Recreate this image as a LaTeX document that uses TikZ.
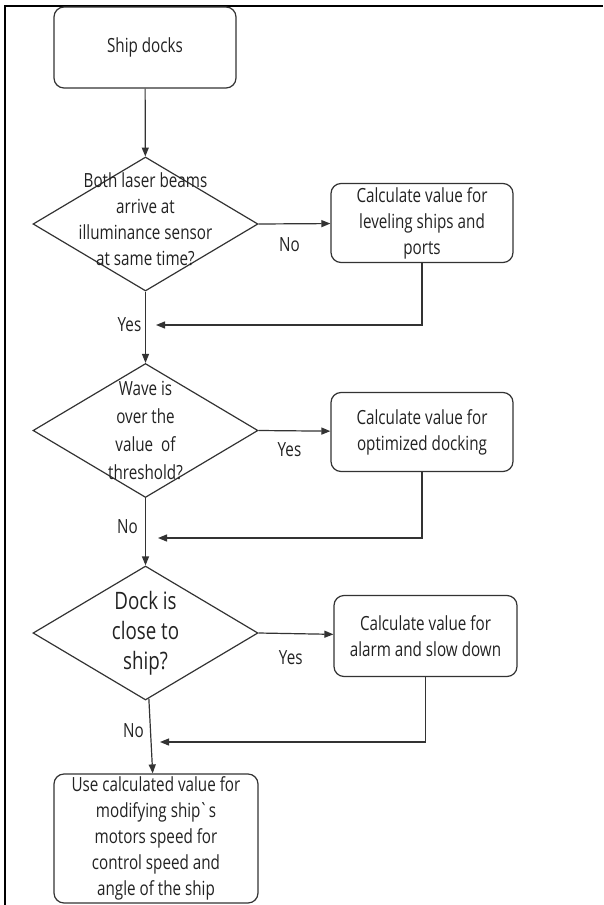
\documentclass[tikz,border=0pt]{standalone}
\usepackage{fontspec}
\setmainfont{Open Sans}[FakeStretch=0.78]
\usepackage{xcolor}
\usetikzlibrary{arrows.meta,shapes.geometric,positioning}
\definecolor{linegray}{HTML}{333333}
\definecolor{textgray}{HTML}{222222}
\tikzset{
  block/.style={draw=linegray, line width=1.2pt, rounded corners=10pt, align=center,
    inner sep=0pt, text=textgray, font=\fontsize{19.5}{26}\selectfont},
  decision/.style={draw=linegray, line width=1.2pt, diamond, inner sep=0pt,
    minimum width=225pt, minimum height=134pt},
  flow/.style={draw=linegray, line width=1.2pt, -{Triangle[length=9pt,width=7pt]}},
  tag/.style={text=textgray, inner sep=0pt, font=\fontsize{19.5}{26}\selectfont}
}

\begin{document}
\begin{tikzpicture}[x=1pt,y=-1pt]
    \useasboundingbox (0,0) rectangle (603,905);
    % Cornice (solo lati sinistro e superiore)
    \draw[line width=2pt] (5,905) -- (5,6) -- (603,6);
    % Blocchi della colonna principale
    \node[block, minimum width=182pt, minimum height=81pt] (dock) at (145,47.5) {Ship docks};
    \node[decision, label={[tag, align=center, yshift=4.5pt]center:{Both laser beams\\arrive at\\illuminance sensor\\at same time?}}] (laser) at (145.5,224) {};
    \node[decision, label={[tag, align=center, font=\fontsize{19.5}{28}\selectfont]center:{Wave is\\over the\\value\ \ of\\threshold?}}] (wave) at (145.5,430.5) {};
    \node[decision, label={[tag, align=center, font=\fontsize{24}{30}\selectfont]center:{Dock is\\close to\\ship?}}] (close) at (145.5,633) {};
    \node[block, minimum width=204pt, minimum height=129pt] (final) at (156,838.5)
      {Use calculated value for\\modifying ship\kern-1.5pt\textasciigrave\kern-1.5pt s\\motors speed for\\control speed and\\angle of the ship};
    % Blocchi di calcolo a destra
    \node[block, minimum width=182pt, minimum height=79pt] (level) at (422,223) {Calculate value for\\leveling ships and\\ports};
    \node[block, minimum width=182pt, minimum height=79pt] (optim) at (422,432) {Calculate value for\\optimized docking};
    \node[block, minimum width=183pt, minimum height=81pt] (alarm) at (425.5,636) {Calculate value for\\alarm and slow down};
    % Punti di rientro
    \coordinate (back1) at (156,325);
    \coordinate (back2) at (158,538);
    \coordinate (back3) at (160,742);
    % Frecce principali
    \draw[flow] (dock) -- (laser);
    \draw[flow] (laser) -- node[tag, pos=0.47, xshift=-16pt] {Yes} (wave);
    \draw[flow] (wave) -- node[tag, pos=0.43, xshift=-18pt] {No} (close);
    \draw[flow] (close) -- node[tag, pos=0.43, xshift=-17pt] {No} (final);
    % Rami a destra
    \draw[flow] (laser.east) -- node[tag, pos=0.43, yshift=-21pt] {No} (level);
    \draw[flow] (wave.east) -- node[tag, pos=0.43, yshift=-19pt] {Yes} (optim);
    \draw[flow] (close.east) -- node[tag, pos=0.43, yshift=-24pt] {Yes} (alarm);
    % Rientri
    \draw[flow] (level.south) |- (back1);
    \draw[flow] (optim.south) |- (back2);
    \draw[flow] (alarm.south) |- (back3);
\end{tikzpicture}
\end{document}
